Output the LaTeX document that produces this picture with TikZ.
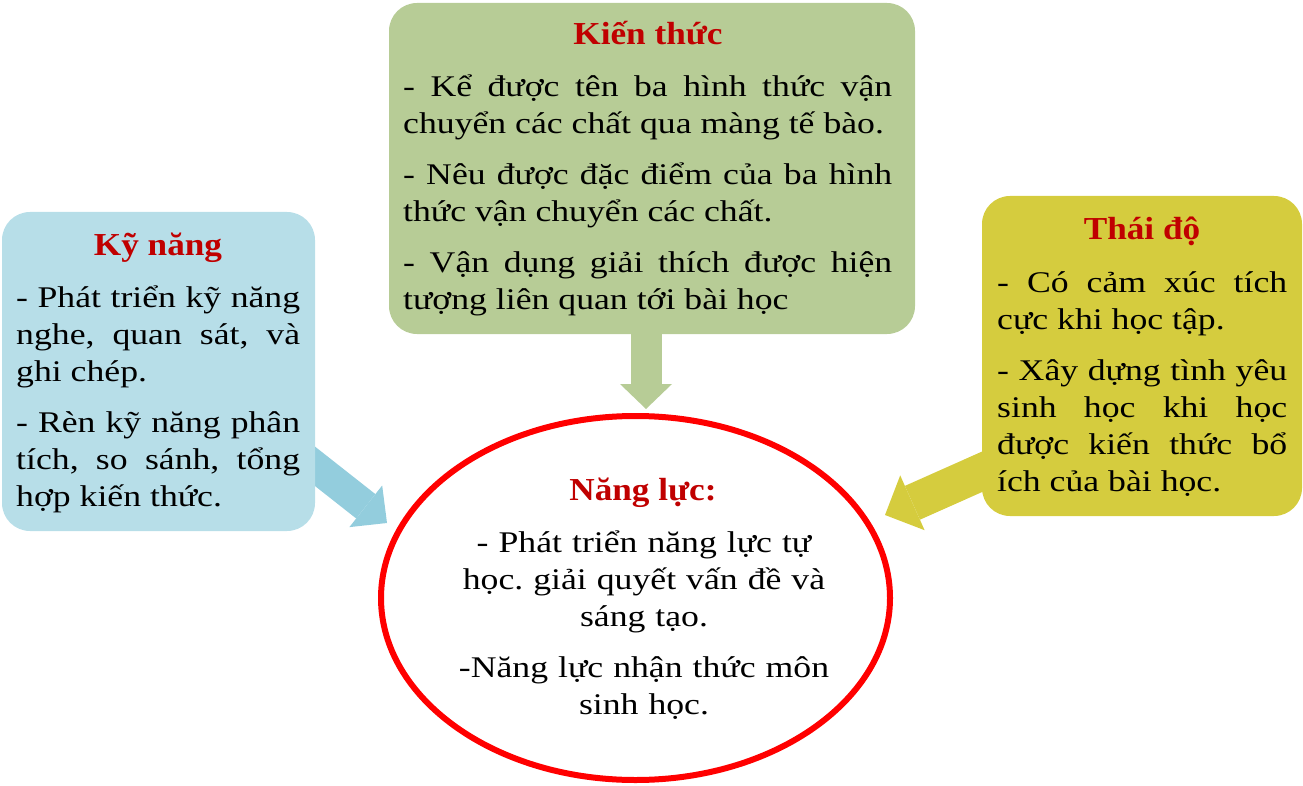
\documentclass[tikz,border=0pt]{standalone}
\usepackage{fontspec}
\setmainfont{Liberation Serif}[FakeStretch=1.19]
\newfontfamily\titlefont{Liberation Serif}[FakeStretch=1.1]
\usetikzlibrary{arrows.meta,backgrounds,shapes.geometric}
\definecolor{knfill}{HTML}{B7DEE8}
\definecolor{knarrow}{HTML}{93CDDD}
\definecolor{ktfill}{HTML}{B7CC96}
\definecolor{tdfill}{HTML}{D5CC3E}
\definecolor{titlered}{HTML}{C00000}
\frenchspacing
\begin{document}
\begin{tikzpicture}[
  x=1pt, y=-1pt,
  box/.style={rounded corners=28pt, inner sep=0pt},
  title/.style={anchor=base, inner sep=0pt, text=titlered, font=\titlefont\fontsize{32}{37}\selectfont\bfseries},
  body/.style={anchor=base west, inner sep=0pt, text width=#1, align=justify,
    font=\fontsize{30}{37}\selectfont, execute at begin node={\setlength{\parskip}{14pt}}},
  blockarrow/.style={line width=#1, line cap=butt}
]
\useasboundingbox (0,0) rectangle (1303,786);
% boxes
\node[box, fill=knfill, minimum width=313pt, minimum height=319pt] (kynang) at (158.5,371.5) {};
\node[box, fill=ktfill, minimum width=526pt, minimum height=331pt] (kienthuc) at (652,168.5) {};
\node[box, fill=tdfill, minimum width=320pt, minimum height=320pt] (thaido) at (1142,356) {};
\node[ellipse, draw=red, line width=6pt, fill=white, minimum width=509pt, minimum height=364pt] (nangluc) at (635.5,598) {};
% arrows behind the boxes
\coordinate (kn-tail) at (293,449);
\coordinate (kn-tip) at (387,523);
\coordinate (kt-tail) at (646,300);
\coordinate (kt-tip) at (646,409);
\coordinate (td-tail) at (1022,454);
\coordinate (td-tip) at (885,515);
\begin{pgfonlayer}{background}
  \draw[blockarrow=31pt, knarrow, -{Triangle[width=53pt,length=27pt,line width=0pt]}] (kn-tail) -- (kn-tip);
  \draw[blockarrow=31pt, ktfill, -{Triangle[width=52pt,length=25pt,line width=0pt]}] (kt-tail) -- (kt-tip);
  \draw[blockarrow=37pt, tdfill, -{Triangle[width=60pt,length=30pt,line width=0pt]}] (td-tail) -- (td-tip);
\end{pgfonlayer}
% texts
\node[title] (kynang-t) at (158,255) {Kỹ năng};
\node[body=284pt] (kynang-b) at (16,307) {- Phát triển kỹ năng\linebreak nghe, quan sát, và\linebreak ghi chép.\par
  - Rèn kỹ năng phân\linebreak tích, so sánh, tổng\linebreak hợp kiến thức.};
\node[title] (kienthuc-t) at (648,45) {Kiến thức};
\node[body=489pt] (kienthuc-b) at (403,97) {- Kể được tên ba hình thức vận\linebreak chuyển các chất qua màng tế bào.\par
  - Nêu được đặc điểm của ba hình\linebreak thức vận chuyển các chất.\par
  - Vận dụng giải thích được hiện\linebreak tượng liên quan tới bài học};
\node[title] (thaido-t) at (1142,240) {Thái độ};
\node[body=290pt] (thaido-b) at (997,292) {- Có cảm xúc tích\linebreak cực khi học tập.\par
  - Xây dựng tình yêu\linebreak sinh học khi học\linebreak được kiến thức bổ\linebreak ích của bài học.};
\node[title] (nangluc-t) at (643,500) {Năng lực:};
\node[anchor=base, inner sep=0pt, text width=440pt, align=center, font=\fontsize{30}{37}\selectfont] (nangluc-b) at (644,552)
  {- Phát triển năng lực tự\\ học. giải quyết vấn đề và\\ sáng tạo.\\[14pt] -Năng lực nhận thức môn\\ sinh học.};
\end{tikzpicture}
\end{document}
